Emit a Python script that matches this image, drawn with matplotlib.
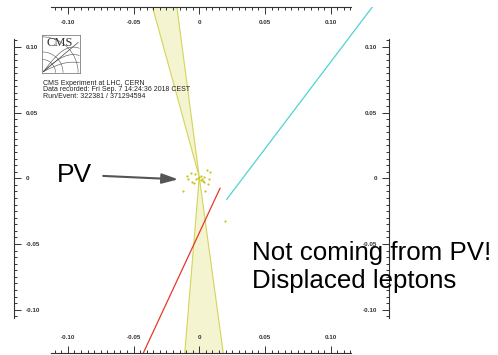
import matplotlib
matplotlib.use('Agg')
import matplotlib.pyplot as plt
import numpy as np
from matplotlib.ticker import FixedLocator, FixedFormatter
from matplotlib.patches import Polygon, Arc

plt.rcParams['font.family'] = ['Liberation Sans', 'DejaVu Sans']

# ---- data (metres, rho-phi view) ----
major_ticks = [-0.10, -0.05, 0.0, 0.05, 0.10]
major_labels = ['-0.10', '-0.05', '0', '0.05', '0.10']
x_minor = np.arange(-0.110, 0.1151, 0.005)
y_minor = np.arange(-0.105, 0.1051, 0.005)

# jet cones from the primary vertex
cone_up_x = [0.0, -0.0382, -0.0183]
cone_up_y = [0.001, 0.140, 0.140]
cone_dn_x = [0.0, -0.0116, 0.0192]
cone_dn_y = [0.001, -0.140, -0.140]

# displaced lepton tracks
mu_x = [0.0209, 0.1317]
mu_y = [-0.0160, 0.1304]
el_x = [0.0158, -0.0426]
el_y = [-0.0076, -0.1330]

# vertex hits around the PV
hit_x = [-0.0097, -0.0065, -0.0033, -0.0086, -0.0053, -0.0040, -0.0023, 0.0000,
         0.0017, 0.0030, 0.0037, 0.0036, 0.0061, 0.0081, 0.0076, 0.0070,
         -0.0124, 0.0043, 0.0196, 0.0015, -0.0012, 0.0010]
hit_y = [0.0021, 0.0038, 0.0031, -0.0008, -0.0026, -0.0038, -0.0009, 0.0008,
         -0.0002, -0.0017, -0.0032, 0.0012, 0.0063, 0.0050, -0.0008, -0.0040,
         -0.0094, -0.0094, -0.0323, 0.0015, 0.0005, -0.0010]

info_lines = ['CMS Experiment at LHC, CERN',
              'Data recorded: Fri Sep. 7 14:24:36 2018 CEST',
              'Run/Event: 322381 / 371294594']

W, H = 498, 355
fig = plt.figure(figsize=(W / 100, H / 100), dpi=100)
ax = fig.add_axes([14 / W, 2 / H, 375 / W, 346 / H])
ax.set_xlim(-0.1410, 0.1444)
ax.set_ylim(-0.1330, 0.1304)

#cones
ax.add_patch(Polygon(np.column_stack([cone_up_x, cone_up_y]), closed=True,
                     facecolor='#f4f4d0', edgecolor='#d4d45a', lw=0.8, zorder=1))
ax.add_patch(Polygon(np.column_stack([cone_dn_x, cone_dn_y]), closed=True,
                     facecolor='#f4f4d0', edgecolor='#d4d45a', lw=0.8, zorder=1))

#tracks
ax.plot(mu_x, mu_y, color='#4fd2d4', lw=0.9, zorder=2)
ax.plot(el_x, el_y, color='#e8372c', lw=0.9, zorder=2)
ax.scatter(hit_x, hit_y, s=2.5, color='#c8c31c', lw=0, zorder=3)

#axes frame: four rulers
tick_col = '#333333'
for side in ['left', 'right', 'top', 'bottom']:
    ax.spines[side].set_color(tick_col)
    ax.spines[side].set_linewidth(0.8)
ax.spines['left'].set_bounds(-0.106, 0.106)
ax.spines['right'].set_bounds(-0.106, 0.106)
ax.spines['top'].set_bounds(-0.1125, 0.1155)
ax.spines['bottom'].set_bounds(-0.1125, 0.1155)

for axis, minor in [(ax.xaxis, x_minor), (ax.yaxis, y_minor)]:
    axis.set_major_locator(FixedLocator(major_ticks))
    axis.set_major_formatter(FixedFormatter(major_labels))
    axis.set_minor_locator(FixedLocator(minor))

ax.tick_params(which='both', direction='in', color=tick_col, width=0.7,
               top=True, bottom=True, left=True, right=True,
               labeltop=True, labelbottom=True, labelleft=True, labelright=True,
               labelsize=4.5, labelcolor=tick_col)
ax.tick_params(which='major', length=4.8)
ax.tick_params(which='minor', length=2.4)
ax.tick_params(axis='x', which='major', pad=-13.2)
ax.tick_params(axis='y', which='major', pad=-8.3)
for t in ax.yaxis.get_major_ticks():
    t.label1.set_ha('left')
    t.label2.set_ha('right')
for t in ax.xaxis.get_major_ticks() + ax.yaxis.get_major_ticks():
    t.label1.set_fontweight('bold')
    t.label2.set_fontweight('bold')

#annotations
ax.text(-0.0950, -0.0026, 'PV', fontsize=19, va='baseline', ha='center')
ax.annotate('', xy=(-0.0160, -0.0008), xytext=(-0.0731, 0.0018),
            arrowprops=dict(arrowstyle='-|>,head_length=0.65,head_width=0.2',
                            color='#555555', lw=1.5, mutation_scale=15,
                            shrinkA=0, shrinkB=0))
ax.text(0.0399, -0.0622, 'Not coming from PV!', fontsize=18.6, va='baseline', ha='left')
ax.text(0.0399, -0.0837, 'Displaced leptons', fontsize=18.6, va='baseline', ha='left')

for i, line in enumerate(info_lines):
    ax.text(-0.1192, 0.0723 - i * 0.0050, line, fontsize=5, color='#222222',
            va='center', ha='left')

#CMS logo
logo = fig.add_axes([42.3 / W, (H - 72.7) / H, 37.7 / W, 37.7 / H])
logo.set_xlim(0, 1)
logo.set_ylim(0, 1)
logo.set_xticks([])
logo.set_yticks([])
for s in logo.spines.values():
    s.set_color('#666666')
    s.set_linewidth(0.5)
logo.text(0.45, 0.78, 'CMS', family='Liberation Serif', fontsize=9,
          ha='center', va='center', color='#333333')
logo.plot([0.03, 0.95], [0.03, 0.80], color='#444444', lw=0.5)
for r in [0.35, 0.55, 0.95]:
    logo.add_patch(Arc((0.0, 0.0), 2 * r, 2 * r, theta1=0, theta2=90,
                       color='#555555', lw=0.4))
tt = np.linspace(0, 1, 30)
for k in [0.25, 0.45, 0.65]:
    logo.plot(0.03 + 0.95 * tt, 0.03 + k * np.sin(tt * np.pi * 0.6),
              color='#444444', lw=0.4)

fig.savefig('out.png', dpi=100)
